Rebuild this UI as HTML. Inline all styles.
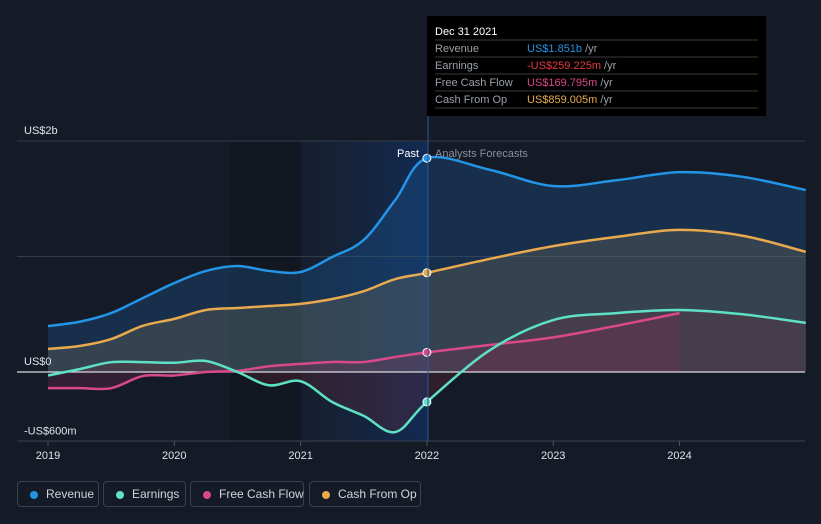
<!DOCTYPE html>
<html><head><meta charset="utf-8"><style>
body{margin:0;background:#151b26;font-family:"Liberation Sans",sans-serif;}
#wrap{position:relative;width:821px;height:524px;overflow:hidden;background:#151b26}
.leg{position:absolute;top:481px;height:26px;border:1px solid #3a4150;border-radius:4px;color:#d0d4da;font-size:12px;line-height:25px;box-sizing:border-box;padding-left:28px;white-space:nowrap}
.leg i{position:absolute;left:12px;top:9px;width:8px;height:8px;border-radius:50%}
</style></head><body>
<div id="wrap">
<svg id="chart" width="821" height="524" style="position:absolute;left:0;top:0"></svg>
<div class="leg" style="left:17px;width:82px"><i style="background:#2394e6"></i>Revenue</div>
<div class="leg" style="left:103px;width:83px"><i style="background:#5ee0c4"></i>Earnings</div>
<div class="leg" style="left:190px;width:114px"><i style="background:#d9498a"></i>Free Cash Flow</div>
<div class="leg" style="left:309px;width:112px"><i style="background:#e8a94f"></i>Cash From Op</div>
</div>
<script>
const revT=[2019,2019.25,2019.5,2019.75,2020,2020.25,2020.5,2020.75,2021,2021.25,2021.5,2021.75,2022,2022.5,2023,2023.5,2024,2024.5,2025];
const revenue=[398,435,510,640,770,875,918,875,866,996,1143,1490,1851,1750,1610,1660,1730,1690,1575];
const cashOp=[200,225,285,400,460,537,554,571,590,632,700,805,859,980,1090,1170,1230,1180,1040];
const earnings=[-30,25,85,85,80,95,0,-115,-80,-260,-380,-520,-259,190,450,510,537,500,425];
const fcfT=[2019,2019.25,2019.5,2019.75,2020,2020.25,2020.5,2020.75,2021,2021.25,2021.5,2021.75,2022,2022.5,2023,2023.5,2024];
const fcf=[-140,-140,-140,-35,-30,0,10,50,70,87,87,130,170,235,300,400,510];
const yTicks=[2000,0,-600];
const yTickLabels=["US$2b","US$0","-US$600m"];
const xTicks=[2019,2020,2021,2022,2023,2024];
const NS='http://www.w3.org/2000/svg';
const svg=document.getElementById('chart');
const X=t=>48+(t-2019)*126.3;
const Y=v=>372-v*0.1155;
function el(tag,attrs,parent){const e=document.createElementNS(NS,tag);for(const k in attrs)e.setAttribute(k,attrs[k]);(parent||svg).appendChild(e);return e;}
function path(pts){let d='M'+pts[0][0]+','+pts[0][1];for(let i=0;i<pts.length-1;i++){const p0=pts[Math.max(0,i-1)],p1=pts[i],p2=pts[i+1],p3=pts[Math.min(pts.length-1,i+2)];const k=1/6;d+=' C'+(p1[0]+(p2[0]-p0[0])*k)+','+(p1[1]+(p2[1]-p0[1])*k)+' '+(p2[0]-(p3[0]-p1[0])*k)+','+(p2[1]-(p3[1]-p1[1])*k)+' '+p2[0]+','+p2[1];}return d;}
const defs=el('defs',{});
const g=el('linearGradient',{id:'pastg',x1:0,y1:0,x2:1,y2:0},defs);
el('stop',{offset:0,'stop-color':'#1a3560','stop-opacity':0.15},g);
el('stop',{offset:1,'stop-color':'#0d3a80','stop-opacity':0.5},g);
let r=el('rect',{x:230,y:141,width:71,height:300,fill:'#0f131b',opacity:0.5});

r=el('rect',{x:301,y:141,width:127,height:300,fill:'url(#pastg)'});

[2000,1000].forEach(v=>{const l=el('line',{x1:17,x2:805,y1:Y(v),y2:Y(v),stroke:'#343b48','stroke-width':1});});
let bl=el('line',{x1:17,x2:805,y1:441,y2:441,stroke:'#3a4150'});
function series(ts,vs,color,fill,fop,name){const pts=ts.map((t,i)=>[X(t),Y(vs[i])]);
 const a=el('path',{d:path(pts)+' L'+pts[pts.length-1][0]+','+Y(0)+' L'+pts[0][0]+','+Y(0)+' Z',fill:fill,opacity:fop});
 
 return pts;}
const sets=[[revT,revenue,'#2394e6','#1d5fa0',0.3,'revenue'],[revT,cashOp,'#e8a94f','#6a6a5a',0.35,'cash-from-op'],[fcfT,fcf,'#d9498a','#8a2a5a',0.25,'free-cash-flow'],[revT,earnings,'#5ee0c4','#7a2a3a',0.25,'earnings']];
sets.forEach(s=>series(...s));
const zl=el('line',{x1:17,x2:805,y1:Y(0),y2:Y(0),stroke:'#d8dbe0','stroke-width':1.2});
sets.forEach(s=>{const pts=s[0].map((t,i)=>[X(t),Y(s[1][i])]);const p=el('path',{d:path(pts),fill:'none',stroke:s[2],'stroke-width':2.5});
 const i=s[0].indexOf(2022);const c=el('circle',{cx:X(2022),cy:Y(s[1][i]),r:4,fill:s[2],stroke:'#fff','stroke-width':1});});
yTicks.forEach((v,i)=>{const t=el('text',{x:24,y:Y(v)-7,fill:'#e0e3e8','font-size':11});t.textContent=yTickLabels[i];});
xTicks.forEach(v=>{const l=el('line',{x1:X(v),x2:X(v),y1:441,y2:446,stroke:'#4a5160'});
 const t=el('text',{x:X(v),y:459,fill:'#e0e3e8','font-size':11,'text-anchor':'middle'});t.textContent=v;});
let t=el('text',{x:419,y:157,fill:'#fff','font-size':11,'text-anchor':'end'});t.textContent='Past';
t=el('text',{x:435,y:157,fill:'#8a909a','font-size':11});t.textContent='Analysts Forecasts';
let vl=el('line',{x1:428,x2:428,y1:116,y2:441,stroke:'#2a5a9a','stroke-width':1});
const tg=el('g',{});
el('rect',{x:427,y:16,width:339,height:100,fill:'#000'},tg);
t=el('text',{x:435,y:35,fill:'#fff','font-size':11},tg);t.textContent='Dec 31 2021';
const rows=[['Revenue','US$1.851b','#2394e6'],['Earnings','-US$259.225m','#e8373e'],['Free Cash Flow','US$169.795m','#d9498a'],['Cash From Op','US$859.005m','#e8a94f']];
rows.forEach((rw,i)=>{const y=52+i*17;el('line',{x1:435,x2:758,y1:y-12,y2:y-12,stroke:'#3a3a3a'},tg);
 let a=el('text',{x:435,y:y,fill:'#9aa0a8','font-size':11},tg);a.textContent=rw[0];
 a=el('text',{x:527,y:y,fill:rw[2],'font-size':11},tg);a.textContent=rw[1];const ts=el('tspan',{fill:'#9aa0a8'},a);ts.textContent=' /yr';});
el('line',{x1:435,x2:758,y1:108,y2:108,stroke:'#3a3a3a'},tg);
</script>
</body></html>
